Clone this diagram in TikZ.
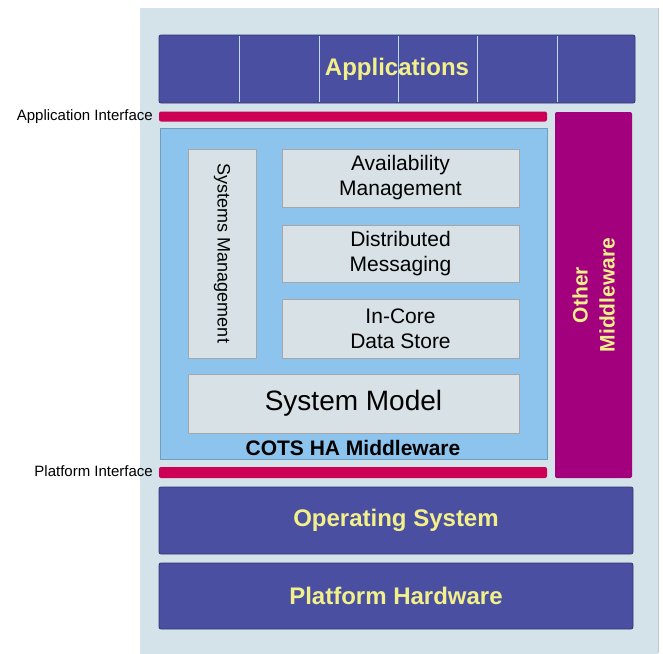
\documentclass[tikz,border=0pt]{standalone}
\usepackage{fontspec}
\setmainfont{Liberation Sans}
\definecolor{panelbg}{HTML}{D4E3E9}
\definecolor{appblue}{HTML}{4A4FA2}
\definecolor{ifred}{HTML}{CC0055}
\definecolor{othermag}{HTML}{A2007C}
\definecolor{cotsblue}{HTML}{8CC4EE}
\definecolor{innergray}{HTML}{D7E1E6}
\definecolor{ytext}{HTML}{F2F08A}
\begin{document}
\begin{tikzpicture}[x=1pt,y=-1pt,
  layer/.style={rectangle, rounded corners=2pt, inner sep=0pt, fill=appblue, draw=appblue!70!black, line width=0.8pt, text=ytext, font=\fontsize{24}{28}\selectfont\bfseries},
  ifbar/.style={rectangle, rounded corners=2pt, inner sep=0pt, fill=ifred},
  inner/.style={rectangle, inner sep=0pt, fill=innergray, draw=gray!70, line width=0.6pt, align=center, font=\fontsize{21}{25}\selectfont},
  iflabel/.style={anchor=east, inner sep=0pt, font=\fontsize{15}{18}\selectfont},
  divider/.style={draw=cotsblue!60!white, line width=0.8pt}
]
\useasboundingbox (0,0) rectangle (663,653);
% panel
\fill[panelbg] (140,8) rectangle (658,656);
\draw[gray!45, line width=1pt] (658,8) -- (658,653);
% applications
\node[layer, minimum width=476pt, minimum height=68pt] (apps) at (397,69) {};
\foreach \xx in {239,319,398,477,557} {
  \draw[divider] (\xx,36) -- (\xx,102);
}
\node[text=ytext, font=\fontsize{24}{28}\selectfont\bfseries, inner sep=0pt] (appslbl) at (apps.center) {Applications};
% interface bars
\node[ifbar, minimum width=388pt, minimum height=10pt] (appif) at (353,116.5) {};
\node[iflabel] (appiflbl) at (153,117) {Application Interface};
% other middleware
\node[rectangle, rounded corners=2pt, inner sep=0pt, fill=othermag, minimum width=77pt, minimum height=366pt] (other) at (593.5,295) {};
\node[rotate=90, text=ytext, align=center, font=\fontsize{21}{27}\selectfont\bfseries] (otherlbl) at (other.center) {Other\\Middleware};
% COTS
\node[rectangle, inner sep=0pt, fill=cotsblue, draw=cotsblue!80!black, line width=0.6pt, minimum width=387pt, minimum height=331pt] (cots) at (353.5,293.5) {};
\node[inner, minimum width=68pt, minimum height=209pt] (sysmgmt) at (222,253.5) {};
\node[rotate=-90, font=\fontsize{18}{21}\selectfont, inner sep=0pt] (sysmgmtlbl) at (sysmgmt.center) {Systems Management};
\node[inner, minimum width=237pt, minimum height=58pt] (avail) at (400.5,178) {Availability\\Management};
\node[inner, minimum width=237pt, minimum height=57pt] (dist) at (400.5,253.5) {Distributed\\Messaging};
\node[inner, minimum width=237pt, minimum height=59pt] (incore) at (400.5,328.5) {In-Core\\Data Store};
\node[inner, minimum width=331pt, minimum height=59pt, font=\fontsize{28}{32}\selectfont] (sysmodel) at (353.5,403.5) {System Model};
\node[font=\fontsize{21}{25}\selectfont\bfseries, inner sep=0pt] (cotslbl) at (353,448) {COTS HA Middleware};
% platform interface
\node[ifbar, minimum width=388pt, minimum height=11pt] (platif) at (353,472.5) {};
\node[iflabel] (platiflbl) at (153,471) {Platform Interface};
% OS and HW
\node[layer, minimum width=474pt, minimum height=67pt] (os) at (396,520.5) {Operating System};
\node[layer, minimum width=474pt, minimum height=66pt] (hw) at (396,596) {Platform Hardware};
\end{tikzpicture}
\end{document}
